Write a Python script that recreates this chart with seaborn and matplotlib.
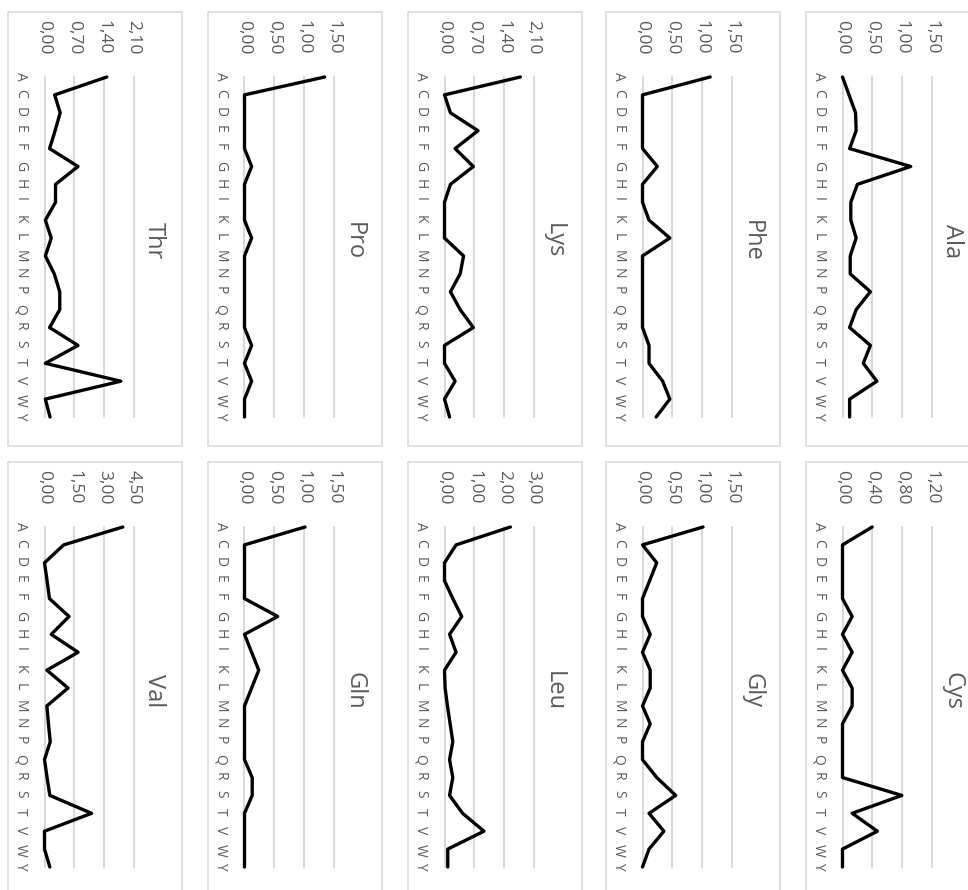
import numpy as np
import pandas as pd
import matplotlib
matplotlib.use("Agg")
import matplotlib.pyplot as plt
from matplotlib.patches import Rectangle
import seaborn as sns

# ---- data -------------------------------------------------------------
residues = ["A", "C", "D", "E", "F", "G", "H", "I", "K", "L",
            "M", "N", "P", "Q", "R", "S", "T", "V", "W", "Y"]

ala = [0.00, 0.11, 0.22, 0.23, 0.12, 1.15, 0.25, 0.14, 0.14, 0.23,
       0.13, 0.13, 0.47, 0.23, 0.12, 0.47, 0.35, 0.58, 0.12, 0.12]
phe = [1.14, 0.00, 0.00, 0.00, 0.00, 0.25, 0.00, 0.00, 0.11, 0.46,
       0.00, 0.00, 0.00, 0.00, 0.00, 0.11, 0.11, 0.34, 0.46, 0.23]
lys = [1.79, 0.00, 0.14, 0.79, 0.25, 0.68, 0.14, 0.00, 0.00, 0.00,
       0.45, 0.37, 0.14, 0.37, 0.68, 0.00, 0.00, 0.25, 0.00, 0.12]
pro = [1.35, 0.00, 0.00, 0.00, 0.00, 0.12, 0.00, 0.00, 0.00, 0.12,
       0.00, 0.00, 0.00, 0.00, 0.00, 0.12, 0.00, 0.12, 0.00, 0.00]
thr = [1.47, 0.24, 0.37, 0.25, 0.12, 0.79, 0.26, 0.26, 0.02, 0.16,
       0.02, 0.23, 0.36, 0.36, 0.12, 0.79, 0.02, 1.80, 0.02, 0.13]
cys = [0.40, 0.00, 0.00, 0.00, 0.00, 0.13, 0.00, 0.13, 0.00, 0.13,
       0.13, 0.00, 0.00, 0.00, 0.00, 0.80, 0.13, 0.47, 0.00, 0.00]
gly = [1.02, 0.00, 0.24, 0.12, 0.00, 0.00, 0.13, 0.00, 0.13, 0.13,
       0.00, 0.13, 0.00, 0.00, 0.24, 0.56, 0.11, 0.36, 0.11, 0.00]
leu = [2.22, 0.39, 0.00, 0.00, 0.28, 0.58, 0.17, 0.39, 0.00, 0.02,
       0.10, 0.19, 0.28, 0.17, 0.28, 0.17, 0.61, 1.33, 0.11, 0.11]
gln = [1.02, 0.00, 0.00, 0.00, 0.00, 0.56, 0.00, 0.12, 0.24, 0.12,
       0.00, 0.00, 0.00, 0.00, 0.13, 0.13, 0.00, 0.00, 0.00, 0.00]
val = [3.96, 0.97, 0.00, 0.13, 0.25, 1.24, 0.34, 1.70, 0.12, 1.19,
       0.12, 0.20, 0.29, 0.00, 0.13, 0.27, 2.38, 0.00, 0.00, 0.27]

ala_ticks = [0.0, 0.5, 1.0, 1.5]
phe_ticks = [0.0, 0.5, 1.0, 1.5]
lys_ticks = [0.0, 0.7, 1.4, 2.1]
pro_ticks = [0.0, 0.5, 1.0, 1.5]
thr_ticks = [0.0, 0.7, 1.4, 2.1]
cys_ticks = [0.0, 0.4, 0.8, 1.2]
gly_ticks = [0.0, 0.5, 1.0, 1.5]
leu_ticks = [0.0, 1.0, 2.0, 3.0]
gln_ticks = [0.0, 0.5, 1.0, 1.5]
val_ticks = [0.0, 1.5, 3.0, 4.5]

panel_names = ["Ala", "Phe", "Lys", "Pro", "Thr",
               "Cys", "Gly", "Leu", "Gln", "Val"]
panel_values = [ala, phe, lys, pro, thr, cys, gly, leu, gln, val]
panel_ticks = [ala_ticks, phe_ticks, lys_ticks, pro_ticks, thr_ticks,
               cys_ticks, gly_ticks, leu_ticks, gln_ticks, val_ticks]

# ---- style / layout ---------------------------------------------------
sns.set_theme(style="white")
plt.rcParams["font.family"] = ["Open Sans", "DejaVu Sans"]

W, H = 968, 890
TEXT = "#595959"
GRID = "#D9D9D9"

col_x = [806, 606, 408, 208, 8]     # panel left edges (pixels)
row_y = [12, 462]                   # panel top edges (pixels)
PW, PH = 174, 434

fig = plt.figure(figsize=(W / 100, H / 100), dpi=100)
fig.patch.set_facecolor("white")

for k, (name, vals, ticks) in enumerate(zip(panel_names, panel_values, panel_ticks)):
    x0 = col_x[k % 5]
    y0 = row_y[k // 5]

    # chart border
    fig.patches.append(Rectangle((x0 / W, 1 - (y0 + PH) / H), PW / W, PH / H,
                                 transform=fig.transFigure, fill=False,
                                 edgecolor=GRID, linewidth=1.1, zorder=0))

    ax = fig.add_axes([(x0 + 36.5) / W, 1 - (y0 + 405) / H, 89 / W, 340 / H])
    df = pd.DataFrame({"pos": np.arange(len(residues)), "value": vals})
    sns.lineplot(data=df, x="value", y="pos", ax=ax, color="black",
                 linewidth=2.4, sort=False, estimator=None)
    for ln in ax.lines:
        ln.set_clip_on(False)
        ln.set_solid_joinstyle("round")

    ax.set_xlim(ticks[0], ticks[-1])
    ax.set_ylim(len(residues) - 1, 0)
    ax.set_xticks(ticks)
    ax.set_xticklabels([f"{t:.2f}".replace(".", ",") for t in ticks], rotation=-90)
    ax.xaxis.tick_top()
    ax.tick_params(axis="x", length=0, pad=16, labelsize=12.5, labelcolor=TEXT,
                   top=True, labeltop=True, bottom=False, labelbottom=False)
    ax.set_yticks(np.arange(len(residues)))
    ax.set_yticklabels(residues, rotation=-90)
    ax.tick_params(axis="y", length=0, pad=12, labelsize=10, labelcolor=TEXT)
    ax.set_xlabel("")
    ax.set_ylabel("")
    for s in ax.spines.values():
        s.set_visible(False)
    ax.grid(axis="x", color=GRID, linewidth=1.5)
    ax.grid(axis="y", visible=False)
    for gl in ax.get_xgridlines():
        gl.set_clip_on(False)
    ax.set_axisbelow(True)
    ax.set_facecolor("none")
    if ax.get_legend() is not None:
        ax.get_legend().remove()

    fig.text((x0 + 146) / W, 1 - (y0 + 229) / H, name, rotation=-90,
             ha="center", va="center", fontsize=17, color=TEXT)

fig.savefig("out.png", dpi=100)
